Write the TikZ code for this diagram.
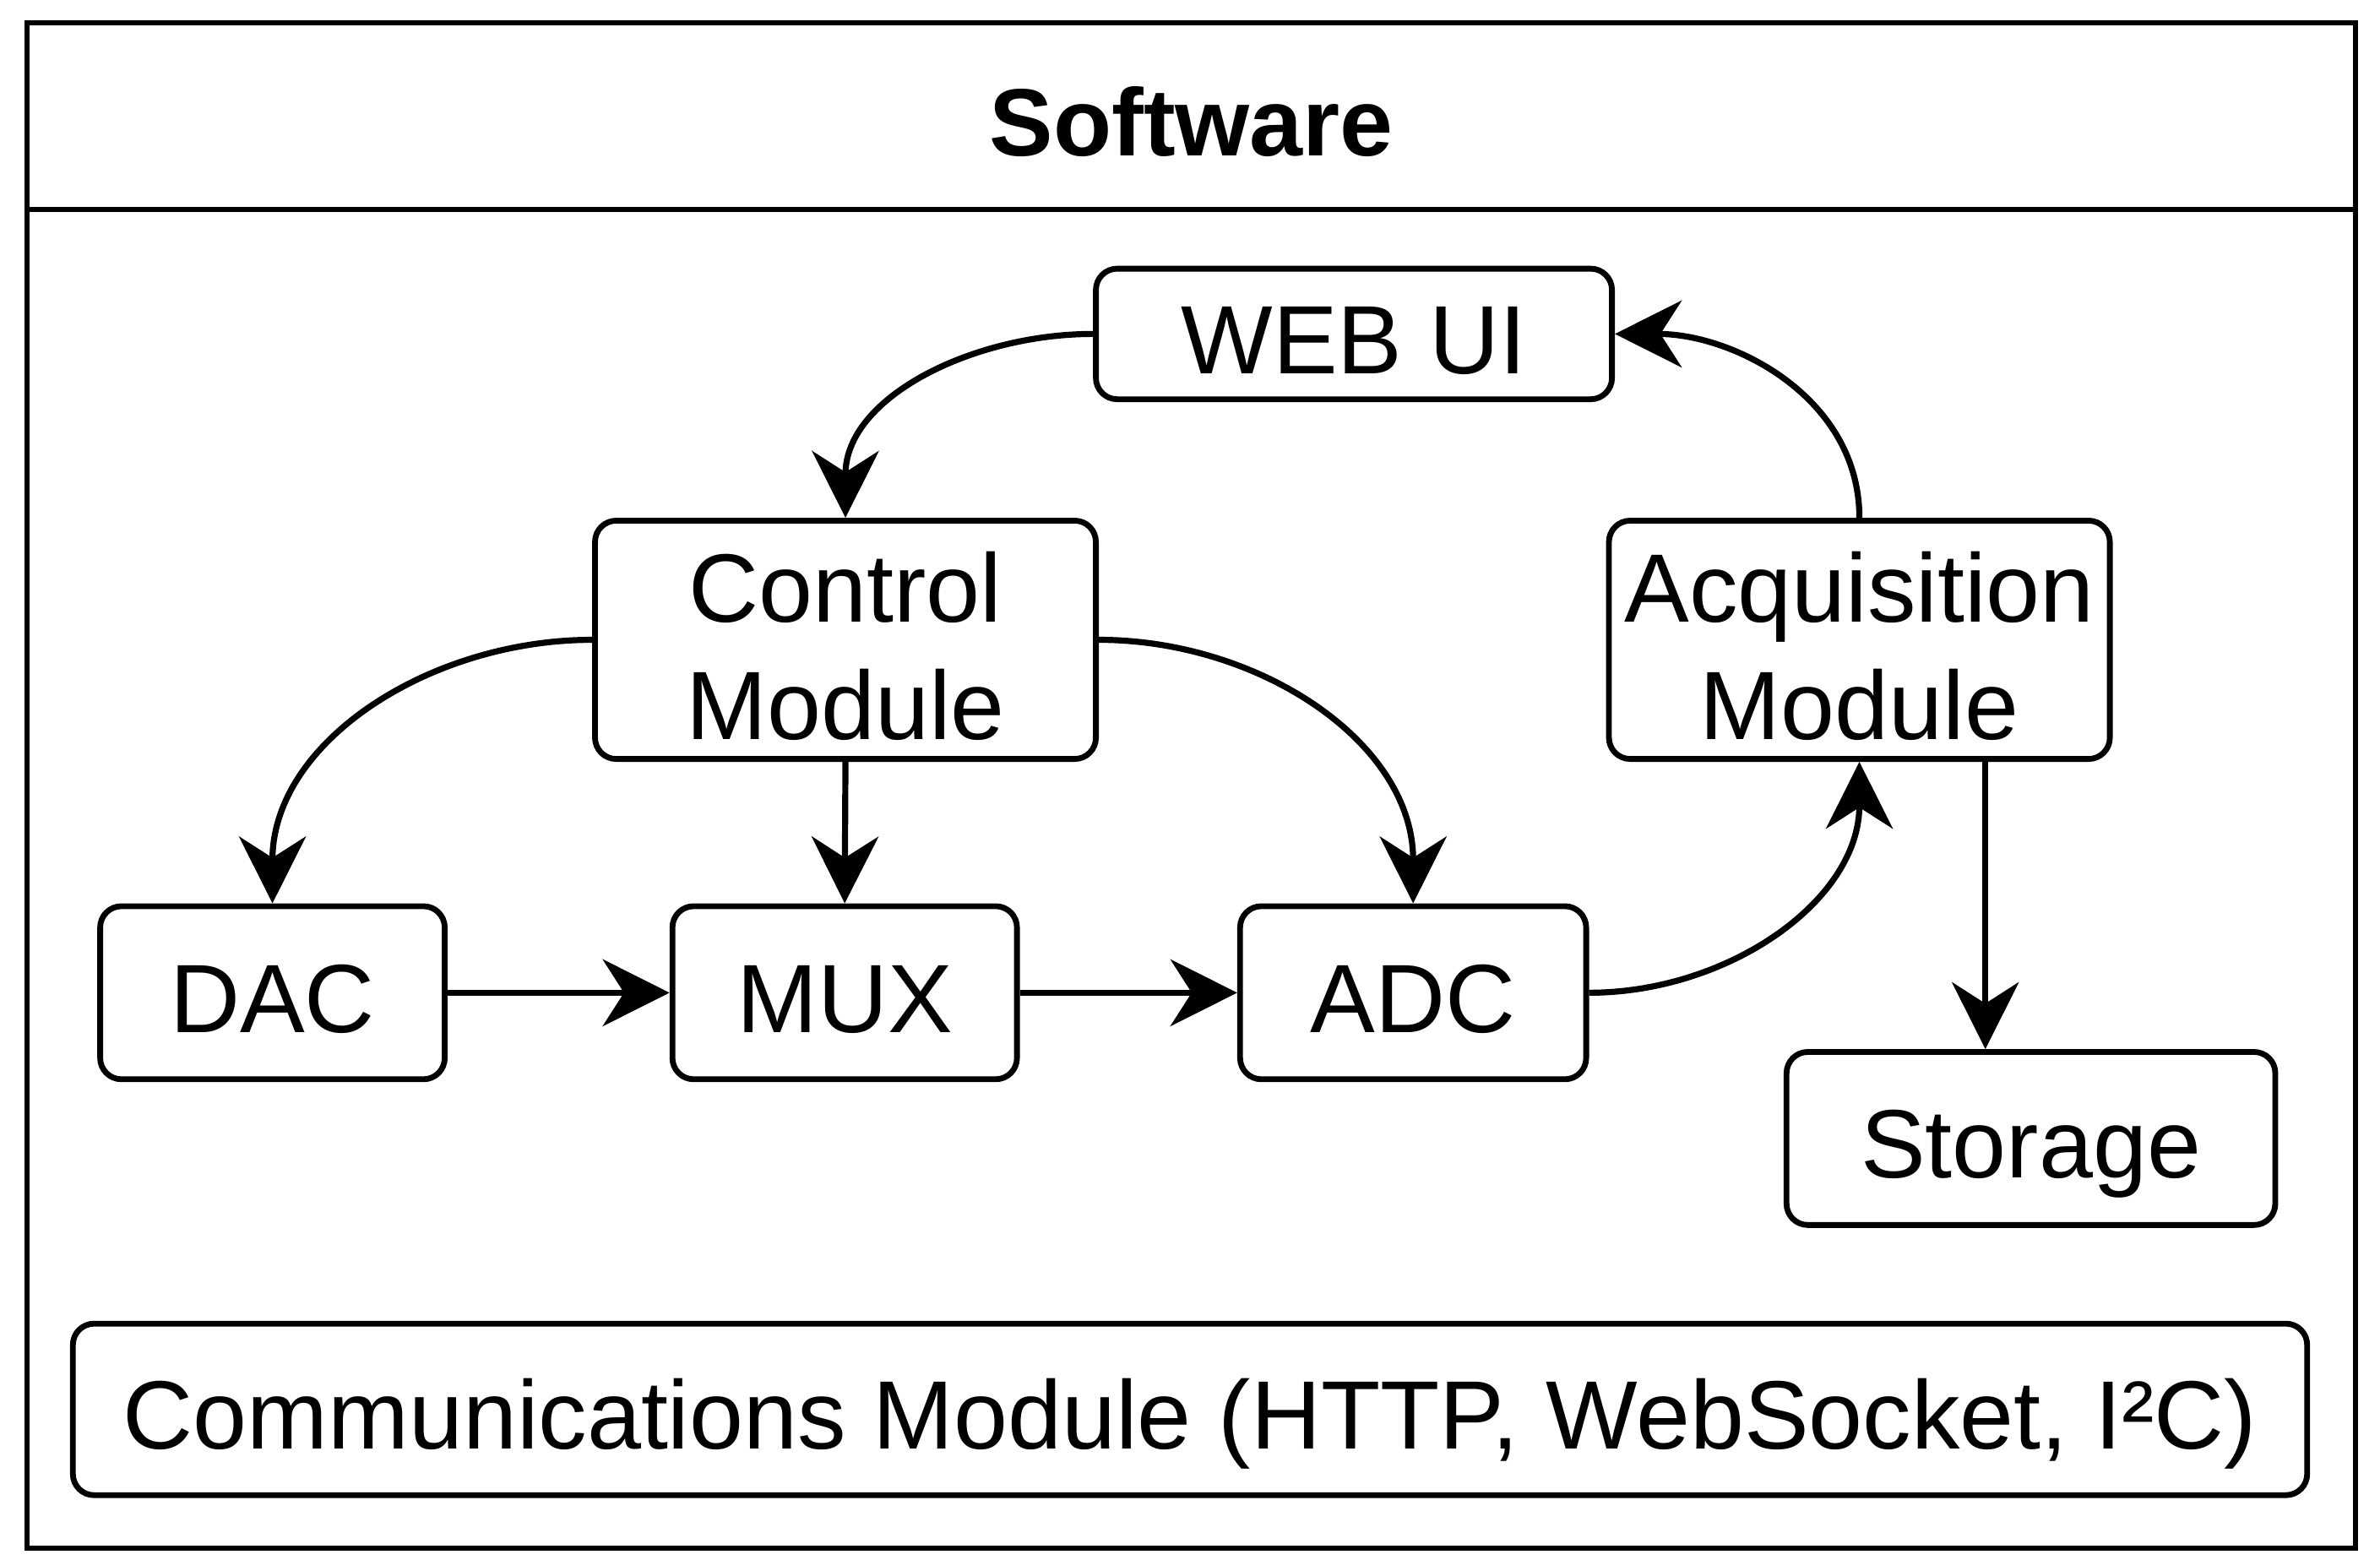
\documentclass[tikz,border=0pt]{standalone}
\usepackage{fontspec}
\setmainfont{Liberation Sans}
\usetikzlibrary{arrows.meta}
\newcommand{\oneline}[1]{\raisebox{0pt}[52pt][0pt]{#1}}
\newcommand{\twoline}[2]{\raisebox{0pt}[131pt][0pt]{\begin{tabular}[b]{@{}c@{}}#1\\#2\end{tabular}}}
\tikzset{
  box/.style={draw, line width=3.8pt, rounded corners=14pt, inner sep=0pt, align=center,
    font=\fontsize{64}{77}\selectfont},
  conn/.style={line width=4pt, -{Stealth[length=44pt, width=44pt, inset=14pt]}},
}
\begin{document}
\begin{tikzpicture}[x=1pt, y=-1pt]
\useasboundingbox (0,0) rectangle (1568,1027.7);
% outer frame
\draw[line width=3.5pt] (18,15) rectangle (1552,1020);
\draw[line width=3.5pt] (18,138) -- (1552,138);
\node (title) at (785,80) {\fontsize{63}{76}\selectfont\bfseries Software};
% nodes
\node[box, minimum width=340pt, minimum height=86pt] (web) at (892,220) {\oneline{WEB UI}};
\node[box, minimum width=330pt, minimum height=157pt] (ctrl) at (557,421.5) {\twoline{Control}{Module}};
\node[box, minimum width=330pt, minimum height=157pt] (acq) at (1225,421.5) {\twoline{Acquisition}{Module}};
\node[box, minimum width=227pt, minimum height=114pt] (dac) at (179.5,654) {\oneline{DAC}};
\node[box, minimum width=227pt, minimum height=114pt] (mux) at (556.5,654) {\oneline{MUX}};
\node[box, minimum width=228pt, minimum height=114pt] (adc) at (931,654) {\oneline{ADC}};
\node[box, minimum width=322pt, minimum height=114pt] (stor) at (1338,750) {\oneline{Storage}};
\node[box, minimum width=1472pt, minimum height=113pt] (comm) at (784,928.5) {\oneline{Communications Module (HTTP, WebSocket, I²C)}};
% connectors
\draw[conn] (web.west) to[out=180, in=90] (ctrl.north);
\draw[conn] (acq.north) to[out=90, in=0] (web.east);
\draw[conn] (ctrl.west) to[out=180, in=90] (dac.north);
\draw[conn] (ctrl.south) -- (mux.north);
\draw[conn] (ctrl.east) to[out=0, in=90] (adc.north);
\draw[conn] (dac.east) -- (mux.west);
\draw[conn] (mux.east) -- (adc.west);
\draw[conn] (adc.east) to[out=0, in=-90] (acq.south);
\draw[conn] ([xshift=83pt]acq.south) -- ([xshift=-30pt]stor.north);
\end{tikzpicture}
\end{document}
